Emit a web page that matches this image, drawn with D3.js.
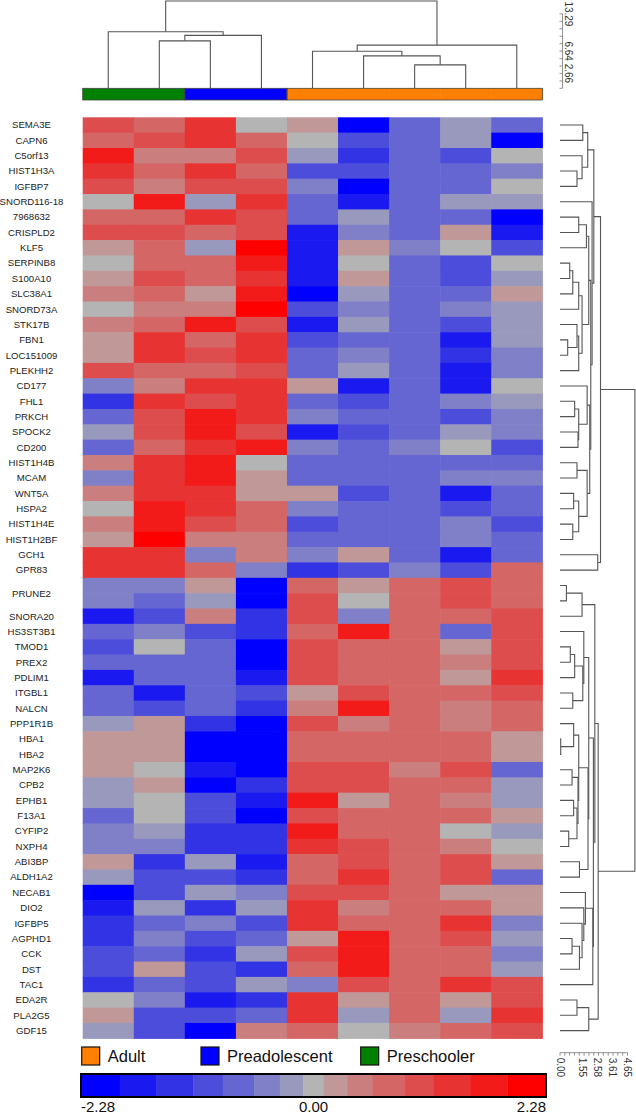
<!DOCTYPE html>
<html><head><meta charset="utf-8">
<script src="https://cdn.jsdelivr.net/npm/d3@7"></script>
<style>body{margin:0;background:#fff}svg{display:block}</style>
</head><body>
<svg id="chart" width="636" height="1114"></svg>
<script>
// ---------------- data ----------------
const genes = ["SEMA3E","CAPN6","C5orf13","HIST1H3A","IGFBP7","SNORD116-18","7968632","CRISPLD2","KLF5","SERPINB8",
"S100A10","SLC38A1","SNORD73A","STK17B","FBN1","LOC151009","PLEKHH2","CD177","FHL1","PRKCH",
"SPOCK2","CD200","HIST1H4B","MCAM","WNT5A","HSPA2","HIST1H4E","HIST1H2BF","GCH1","GPR83",
"PRUNE2","PRUNE2","SNORA20","HS3ST3B1","TMOD1","PREX2","PDLIM1","ITGBL1","NALCN","PPP1R1B",
"HBA1","HBA2","MAP2K6","CPB2","EPHB1","F13A1","CYFIP2","NXPH4","ABI3BP","ALDH1A2",
"NECAB1","DIO2","IGFBP5","AGPHD1","CCK","DST","TAC1","EDA2R","PLA2G5","GDF15"];
const samples = ["S1","S2","S3","S4","S5","S6","S7","S8","S9"];
const sampleGroups = ["Preschooler","Preschooler","Preadolescent","Preadolescent","Adult","Adult","Adult","Adult","Adult"];
const groupNames = ["Adult","Preadolescent","Preschooler"];
const groupColors = ["#ff8000","#0000ff","#008000"];

const values = [
[1.05,0.75,1.35,0,0.2,-2.1,-0.75,-0.2,-0.75],
[0.75,1.05,1.35,0.75,0,-1.05,-0.75,-0.2,-2.1],
[1.7,0.45,0.45,1.05,-0.2,-1.35,-0.75,-1.05,0],
[1.35,0.75,1.35,0.75,-1.05,-1.05,-0.75,-0.75,-0.45],
[1.05,0.45,1.05,1.05,-0.45,-2.1,-0.75,-0.75,0],
[0,1.7,-0.2,1.35,-0.75,-1.7,-0.75,-0.2,-0.2],
[0.75,0.75,1.35,1.05,-0.75,-0.2,-0.75,-0.75,-2.1],
[1.05,1.05,0.75,1.05,-1.7,-0.45,-0.75,0.2,-1.7],
[0.2,0.75,-0.2,2.1,-1.7,0.2,-0.45,0,-1.05],
[0,0.75,0.75,1.7,-1.7,0,-0.75,-1.05,0],
[0.2,1.05,0.75,1.35,-1.7,0.2,-0.75,-1.05,-0.2],
[0.45,0.75,0.2,1.7,-2.1,-0.2,-0.75,-0.75,0.2],
[0,0.45,0.45,2.1,-1.05,-0.45,-0.75,-0.45,-0.2],
[0.45,0.75,1.7,1.05,-1.7,-0.2,-0.75,-1.05,-0.2],
[0.2,1.35,0.75,1.35,-1.05,-0.75,-0.75,-1.7,-0.2],
[0.2,1.35,1.05,1.35,-0.75,-0.45,-0.75,-1.35,-0.45],
[1.05,0.75,0.75,1.05,-0.75,-0.2,-0.75,-1.7,-0.45],
[-0.45,0.45,1.35,1.35,0.2,-1.7,-0.75,-1.7,0],
[-1.35,1.35,1.05,1.35,-0.75,-1.05,-0.75,-0.45,-0.2],
[-0.75,1.05,1.7,1.35,-0.45,-0.75,-0.75,-1.05,-0.45],
[-0.2,1.05,1.7,1.05,-1.7,-1.05,-0.75,-0.2,-0.45],
[-0.75,0.75,1.35,1.7,-0.45,-0.75,-0.45,0,-1.05],
[0.45,1.35,1.7,0,-0.75,-0.75,-0.75,-0.75,-0.75],
[-0.45,1.35,1.7,0.2,-0.75,-0.75,-0.75,-0.45,-0.45],
[0.45,1.35,1.35,0.2,0.2,-1.05,-0.75,-1.7,-0.75],
[0,1.7,1.35,0.75,-0.45,-0.75,-0.75,-1.05,-0.75],
[0.45,1.7,1.05,0.75,-1.05,-0.75,-0.75,-0.45,-1.05],
[0.2,2.1,0.45,0.45,-0.75,-0.75,-0.75,-0.45,-0.75],
[1.35,1.35,-0.45,0.45,-0.45,0.2,-0.75,-1.7,-0.75],
[1.35,1.35,0.75,-0.45,-1.35,-1.05,-0.45,-1.05,0.75],
[-0.45,-0.45,0.2,-2.1,0.75,0.2,0.75,1.05,0.75],
[-0.45,-0.75,-0.2,-2.1,1.05,0,0.75,1.05,0.75],
[-1.7,-1.05,0.45,-1.35,1.05,-0.45,0.75,0.75,1.05],
[-0.75,-0.45,-1.05,-1.35,0.75,1.7,0.75,-0.75,1.05],
[-1.05,0,-0.75,-2.1,1.05,0.75,0.75,0.2,1.05],
[-0.75,-0.75,-0.75,-2.1,1.05,0.75,0.75,0.45,1.05],
[-1.7,-0.75,-0.75,-1.7,1.05,0.75,0.75,0.2,1.35],
[-0.75,-1.7,-0.75,-1.05,0.2,1.05,0.75,0.75,1.05],
[-0.75,-1.05,-0.75,-1.35,0.45,1.7,0.75,0.45,0.75],
[-0.2,0.2,-1.35,-2.1,1.05,0.45,0.75,0.45,0.75],
[0.2,0.2,-2.1,-2.1,0.75,0.75,0.75,0.75,0.2],
[0.2,0.2,-2.1,-2.1,0.75,0.75,0.75,0.75,0.2],
[0.2,0,-1.7,-2.1,1.05,1.05,0.45,1.05,-0.75],
[-0.2,0.2,-2.1,-1.35,1.05,1.05,0.75,0.75,-0.2],
[-0.2,0,-1.05,-1.7,1.7,0.2,0.75,0.45,-0.2],
[-0.75,0,-1.05,-2.1,1.05,0.75,0.75,0.75,0.2],
[-0.45,-0.2,-1.35,-1.35,1.7,0.75,0.75,0,-0.2],
[-0.45,-0.45,-1.35,-1.35,1.35,1.05,0.75,0.45,0],
[0.2,-1.35,-0.2,-1.7,0.75,1.05,0.75,1.05,0.2],
[-0.2,-1.05,-1.05,-1.35,0.75,1.35,0.75,1.05,-0.75],
[-2.1,-1.05,-0.2,-0.45,1.05,1.05,0.75,0.2,0.2],
[-1.7,-0.2,-1.35,-0.2,1.35,0.45,0.75,0.75,0.2],
[-1.35,-0.75,-0.45,-1.05,1.35,0.75,0.75,1.35,-0.45],
[-1.35,-0.45,-1.05,-0.75,0.2,1.7,0.75,1.05,-0.2],
[-1.05,-0.75,-1.35,-0.2,1.05,1.7,0.75,0.75,-0.45],
[-1.05,0.2,-1.05,-1.35,0.75,1.7,0.75,0.75,-0.2],
[-1.35,-0.75,-1.05,-0.2,-0.45,1.05,0.75,1.35,1.05],
[0,-0.45,-1.7,-1.35,1.35,0.2,0.75,0.2,1.05],
[0.2,-1.05,-1.05,-0.75,1.35,-0.2,0.75,-0.2,1.35],
[-0.2,-1.05,-2.1,0.45,0.75,0,0.45,0.75,1.05]
];

const colorThresholds = [-1.90,-1.54,-1.18,-0.89,-0.58,-0.33,-0.10,0.10,0.33,0.58,0.89,1.18,1.54,1.90];
const colorRange = ["rgb(0,0,255)","rgb(26,26,240)","rgb(51,51,230)","rgb(77,77,220)","rgb(102,102,210)",
"rgb(128,128,200)","rgb(153,153,190)","rgb(180,180,180)","rgb(192,152,152)","rgb(202,126,126)",
"rgb(212,102,102)","rgb(222,77,77)","rgb(232,51,51)","rgb(243,26,26)","rgb(255,0,0)"];
const legendDomain = [-2.28, 2.28];
const legendTicks = [-2.28, 0, 2.28];

// dendrograms: [height, left, right]; leaves are indices
const colTree = [15.6, [10.1, 0, [9.45, [8.48, 1, 2], 3]], [7.71, [6.63, 4, [5.79, 5, [4.18, 6, 7]]], 8]];
const colScaleLabels = [2.66, 6.64, 13.29];
const colScaleMax = 15.6;

const rowTree = [5.16,
  [2.79,
    [2.33,
      [1.91, [1.57, 0, 1], [1.52, 2, [1.17, 3, 4]]],
      [2.21, 5,
        [2.12,
          [1.98, [1.82, [1.29, 6, 7], 8],
                 [1.52, [1.29, [0.88, [0.67, 9, 10], 11], 12], [1.29, [1.17, 13, [0.53, 14, 15]], 16]]],
          [2.05, [1.87, 17, [1.29, [1.01, 18, 19], [1.24, 20, 21]]],
                 [1.87, [1.17, 22, 23], [1.29, [0.94, 24, 25], [0.88, 26, 27]]]]]]],
    [2.60, 28, 29]],
  [2.63,
    [2.40,
      [1.52, [0.44, 30, 31], 32],
      [2.30,
        [1.98,
          [1.64, 33, [1.57, [1.01, [0.71, 34, 35], 36], [0.88, 37, 38]]],
          [1.93, [1.29, [0.94, 39, [0.05, 40, 41]], [1.24, [0.83, 42, 43], [1.17, [0.94, 44, 45], [0.60, 46, 47]]]],
                 [1.34, 48, 49]]],
        [2.26, [1.75, 50, [1.64, 51, [1.52, 52, [1.34, [0.83, 53, 54], 55]]]], 56]]],
    [1.98, [1.17, 57, 58], 59]]];
const rowScaleLabels = [0, 1.55, 2.58, 3.61, 4.65];
const rowScaleMinorTicks = 14;

// ---------------- drawing ----------------
const svg = d3.select("#chart");
const font = "'Liberation Sans', Arial, sans-serif";

const x = d3.scaleBand().domain(d3.range(samples.length)).range([82.7, 542.3]);
const y = d3.scaleBand().domain(d3.range(genes.length)).range([117.3, 1038.3]);
const color = d3.scaleThreshold().domain(colorThresholds).range(colorRange);

// heatmap cells
const cells = [];
values.forEach((row, i) => row.forEach((v, j) => cells.push({i, j, v})));
svg.append("g").selectAll("rect").data(cells).join("rect")
  .attr("x", d => x(d.j)).attr("y", d => y(d.i))
  .attr("width", x.bandwidth() + 0.6).attr("height", y.bandwidth() + 0.6)
  .attr("fill", d => color(d.v));

// gene labels (duplicate names share one label at their mean position)
const labelGroups = d3.groups(genes.map((g, i) => ({g, i})), d => d.g);
svg.append("g").selectAll("text").data(labelGroups).join("text")
  .attr("x", 31.5)
  .attr("y", d => d3.mean(d[1], e => y(e.i) + y.bandwidth() / 2))
  .attr("dy", "0.35em")
  .attr("text-anchor", "middle")
  .attr("font-family", font).attr("font-size", 9.6).attr("fill", "#222")
  .text(d => d[0]);

// hierarchy helper
function buildTree(tree, leafPos) {
  const root = d3.hierarchy(tree, d => Array.isArray(d) ? [d[1], d[2]] : null);
  root.eachAfter(n => {
    if (n.children) { n.h = n.data[0]; n.p = d3.mean(n.children, c => c.p); }
    else { n.h = 0; n.p = leafPos(n.data); }
  });
  return root;
}

// column dendrogram
const colH = d3.scaleLinear().domain([0, colScaleMax]).range([88.3, 1]);
const colRoot = buildTree(colTree, j => x(j) + x.bandwidth() / 2);
svg.append("g").selectAll("path").data(colRoot.descendants().filter(n => n.children)).join("path")
  .attr("fill", "none").attr("stroke", "#555").attr("stroke-width", 1.1)
  .attr("d", n => {
    const [a, b] = n.children;
    return `M${a.p},${colH(a.h)}V${colH(n.h)}H${b.p}V${colH(b.h)}`;
  });

// group bar
const barY = 88.3, barH = 11.7;
const gcol = d3.scaleOrdinal().domain(groupNames).range(groupColors);
svg.append("g").selectAll("rect").data(sampleGroups).join("rect")
  .attr("x", (d, j) => x(j)).attr("y", barY)
  .attr("width", x.bandwidth() + 0.5).attr("height", barH)
  .attr("fill", d => gcol(d));
const runs = d3.groups(sampleGroups.map((g, j) => ({g, j})), d => d.g);
svg.append("g").selectAll("rect").data(runs).join("rect")
  .attr("x", d => x(d3.min(d[1], e => e.j)))
  .attr("width", d => x(d3.max(d[1], e => e.j)) + x.bandwidth() - x(d3.min(d[1], e => e.j)))
  .attr("y", barY).attr("height", barH)
  .attr("fill", "none").attr("stroke", "#444").attr("stroke-width", 0.8);

// column scale (top right)
const cs = svg.append("g");
const csX = 562.5;
cs.append("line").attr("x1", csX).attr("x2", csX).attr("y1", colH(0)).attr("y2", colH(13.29))
  .attr("stroke", "#777").attr("stroke-width", 0.8);
cs.selectAll("line.t").data(d3.range(0, 11).map(k => k * 1.329)).join("line").attr("class", "t")
  .attr("x1", csX - 3).attr("x2", csX).attr("y1", d => colH(d)).attr("y2", d => colH(d))
  .attr("stroke", "#777").attr("stroke-width", 0.8);
cs.selectAll("text").data(colScaleLabels).join("text")
  .attr("transform", d => `translate(${csX + 6},${colH(d)}) rotate(90)`)
  .attr("text-anchor", "middle").attr("dy", "0.35em")
  .attr("font-family", font).attr("font-size", 10).attr("fill", "#333")
  .text(d => d.toFixed(2));

// row dendrogram
const rowH = d3.scaleLinear().domain([0, 4.65]).range([560, 627.5]);
const rowRoot = buildTree(rowTree, i => y(i) + y.bandwidth() / 2);
svg.append("g").selectAll("path").data(rowRoot.descendants().filter(n => n.children)).join("path")
  .attr("fill", "none").attr("stroke", "#555").attr("stroke-width", 1.1)
  .attr("d", n => {
    const [a, b] = n.children;
    return `M${rowH(a.h)},${a.p}H${rowH(n.h)}V${b.p}H${rowH(b.h)}`;
  });

// row scale (bottom right)
const rs = svg.append("g");
const rsY = 1052.7;
rs.append("line").attr("x1", rowH(0)).attr("x2", rowH(4.65)).attr("y1", rsY).attr("y2", rsY)
  .attr("stroke", "#777").attr("stroke-width", 0.8);
rs.selectAll("line.t").data(d3.range(0, rowScaleMinorTicks + 1).map(k => k * 4.65 / rowScaleMinorTicks)).join("line").attr("class", "t")
  .attr("x1", d => rowH(d)).attr("x2", d => rowH(d)).attr("y1", rsY).attr("y2", rsY + 3)
  .attr("stroke", "#777").attr("stroke-width", 0.8);
rs.selectAll("text").data(rowScaleLabels).join("text")
  .attr("transform", d => `translate(${rowH(d)},${rsY + 5}) rotate(90)`)
  .attr("text-anchor", "start").attr("dy", "0.35em")
  .attr("font-family", font).attr("font-size", 10).attr("fill", "#333")
  .text(d => d.toFixed(2));

// group legend
const legendX = [81.7, 201, 360.7];
const lg = svg.append("g").selectAll("g").data(groupNames).join("g")
  .attr("transform", (d, k) => `translate(${legendX[k]},1047)`);
lg.append("rect").attr("width", 18).attr("height", 18)
  .attr("fill", d => gcol(d)).attr("stroke", "#111").attr("stroke-width", 1.2);
lg.append("text").attr("x", 26).attr("y", 15)
  .attr("font-family", font).attr("font-size", 16.5).attr("fill", "#111")
  .text(d => d);

// color bar
const xl = d3.scaleLinear().domain(legendDomain).range([81, 546]);
const edges = [legendDomain[0], ...colorThresholds, legendDomain[1]];
const cb = svg.append("g");
cb.selectAll("rect").data(colorRange).join("rect")
  .attr("x", (d, k) => xl(edges[k])).attr("width", (d, k) => xl(edges[k + 1]) - xl(edges[k]) + 0.4)
  .attr("y", 1074).attr("height", 23).attr("fill", d => d);
cb.append("rect").attr("x", xl(legendDomain[0])).attr("y", 1074)
  .attr("width", xl(legendDomain[1]) - xl(legendDomain[0])).attr("height", 23)
  .attr("fill", "none").attr("stroke", "#000").attr("stroke-width", 2);
cb.selectAll("text").data(legendTicks).join("text")
  .attr("x", d => xl(d))
  .attr("y", 1112)
  .attr("text-anchor", (d, k) => k === 0 ? "start" : (k === legendTicks.length - 1 ? "end" : "middle"))
  .attr("font-family", font).attr("font-size", 15).attr("fill", "#111")
  .text(d => d.toFixed(2));
</script>
</body></html>
